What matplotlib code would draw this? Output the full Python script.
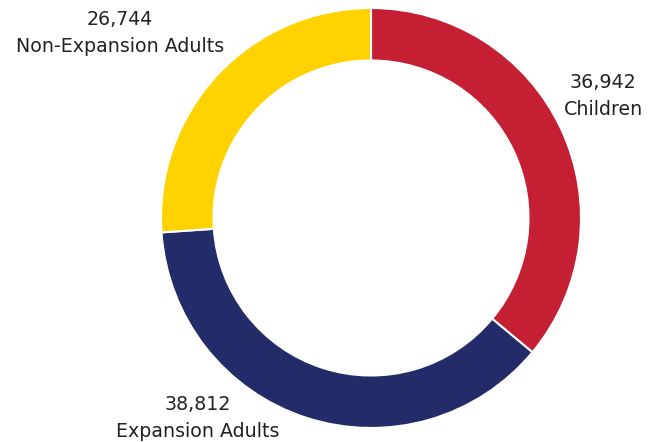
import matplotlib
matplotlib.use("Agg")
import matplotlib.pyplot as plt

# data
categories = ["Children", "Expansion Adults", "Non-Expansion Adults"]
values = [36942, 38812, 26744]
colors = ["#C41F33", "#232B69", "#FFD200"]

# label anchor spots (data coords, ring radius = 1)
label_pos = [(1.105, 0.58), (-0.824, -0.952), (-1.195, 0.881)]

fig = plt.figure(figsize=(6.51, 4.42), dpi=100)
ax = fig.add_axes([161 / 651, 14 / 442, 420 / 651, 420 / 442])

ax.pie(values, colors=colors, startangle=90, counterclock=False,
       radius=1, wedgeprops=dict(width=0.25, edgecolor="white", linewidth=1.5))

for name, v, (x, y) in zip(categories, values, label_pos):
    ax.text(x, y, f"{v:,}\n{name}", ha="center", va="center",
            fontsize=13.7, color="#222222", linespacing=1.5,
            family="DejaVu Sans", clip_on=False)

ax.set_xlim(-1, 1)
ax.set_ylim(-1, 1)
ax.set_aspect("equal")
ax.axis("off")

fig.savefig("out.png", dpi=100)
